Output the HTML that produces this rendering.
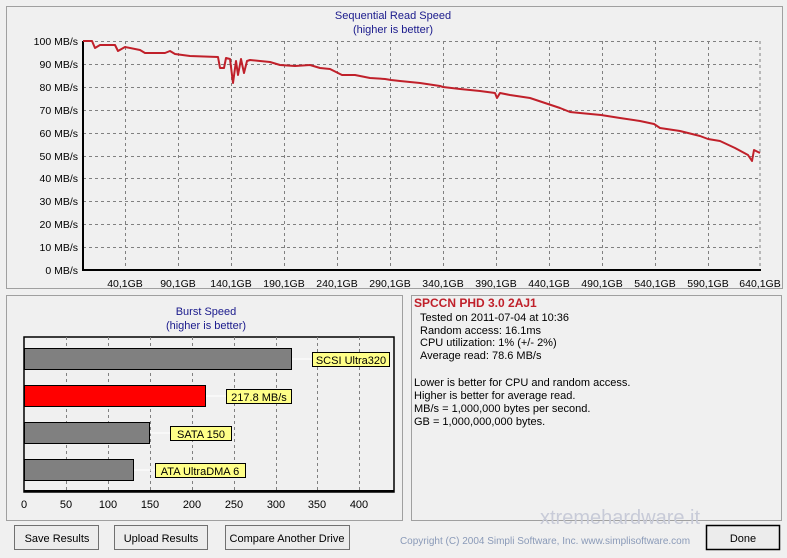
<!DOCTYPE html>
<html><head><meta charset="utf-8"><style>
body{margin:0;background:#f0f0f0;font-family:"Liberation Sans",sans-serif;}
svg text{font-family:"Liberation Sans",sans-serif;}
</style></head><body>
<svg width="787" height="553" viewBox="0 0 787 553" xmlns="http://www.w3.org/2000/svg">
<rect width="787" height="553" fill="#f0f0f0"/>
<rect x="6.5" y="6.5" width="776" height="282" fill="#f0f0f0" stroke="#a0a0a0"/>
<text x="393" y="19" font-size="11" fill="#1a1a8c" text-anchor="middle">Sequential Read Speed</text>
<text x="393" y="33" font-size="11" fill="#1a1a8c" text-anchor="middle">(higher is better)</text>
<g stroke="#808080" stroke-dasharray="3,3" stroke-width="1">
<line x1="83" y1="41.5" x2="760" y2="41.5"/><line x1="83" y1="64.5" x2="760" y2="64.5"/><line x1="83" y1="87.5" x2="760" y2="87.5"/><line x1="83" y1="110.5" x2="760" y2="110.5"/><line x1="83" y1="133.5" x2="760" y2="133.5"/><line x1="83" y1="156.5" x2="760" y2="156.5"/><line x1="83" y1="178.5" x2="760" y2="178.5"/><line x1="83" y1="201.5" x2="760" y2="201.5"/><line x1="83" y1="224.5" x2="760" y2="224.5"/><line x1="83" y1="247.5" x2="760" y2="247.5"/>
<line x1="125.5" y1="41" x2="125.5" y2="270"/><line x1="178.5" y1="41" x2="178.5" y2="270"/><line x1="231.5" y1="41" x2="231.5" y2="270"/><line x1="284.5" y1="41" x2="284.5" y2="270"/><line x1="337.5" y1="41" x2="337.5" y2="270"/><line x1="390.5" y1="41" x2="390.5" y2="270"/><line x1="443.5" y1="41" x2="443.5" y2="270"/><line x1="496.5" y1="41" x2="496.5" y2="270"/><line x1="549.5" y1="41" x2="549.5" y2="270"/><line x1="602.5" y1="41" x2="602.5" y2="270"/><line x1="655.5" y1="41" x2="655.5" y2="270"/><line x1="708.5" y1="41" x2="708.5" y2="270"/><line x1="760" y1="41" x2="760" y2="270"/>
</g>
<line x1="83" y1="41" x2="83" y2="271" stroke="#000" stroke-width="2"/>
<line x1="82" y1="270" x2="761" y2="270" stroke="#000" stroke-width="2"/>
<g font-size="10.5" fill="#000" text-anchor="end">
<text x="78" y="45">100 MB/s</text><text x="78" y="68">90 MB/s</text><text x="78" y="91">80 MB/s</text><text x="78" y="114">70 MB/s</text><text x="78" y="137">60 MB/s</text><text x="78" y="160">50 MB/s</text><text x="78" y="182">40 MB/s</text><text x="78" y="205">30 MB/s</text><text x="78" y="228">20 MB/s</text><text x="78" y="251">10 MB/s</text><text x="78" y="274">0 MB/s</text>
</g>
<g font-size="10.5" fill="#000" text-anchor="middle">
<text x="125" y="287">40,1GB</text><text x="178" y="287">90,1GB</text><text x="231" y="287">140,1GB</text><text x="284" y="287">190,1GB</text><text x="337" y="287">240,1GB</text><text x="390" y="287">290,1GB</text><text x="443" y="287">340,1GB</text><text x="496" y="287">390,1GB</text><text x="549" y="287">440,1GB</text><text x="602" y="287">490,1GB</text><text x="655" y="287">540,1GB</text><text x="708" y="287">590,1GB</text><text x="760" y="287">640,1GB</text>
</g>
<polyline fill="none" stroke="#c0202a" stroke-width="2" stroke-linejoin="round" points="83,41 92,41 95,48 100,45 115,45 118,51 125,47 140,50 145,53 165,53 170,51 175,54 190,56 218,57 220,68 224,68 226,58 230,59 233,83 236,61 238,75 241,59 244,73 247,61 250,60 260,61 270,62 280,65 295,66 310,65 320,68 330,69 342,75 355,75 370,78 385,79 391,80 400,81 420,83 440,86 443,87 460,89 480,91 495,93 497,98 500,93 510,95 530,98 548,104 560,108 570,112 580,113 601,115 620,118 640,121 654,124 660,128 680,131 700,136 708,139 720,141 735,148 748,155 752,161 754,150 760,153"/>
<rect x="6.5" y="295.5" width="396" height="225" fill="#f0f0f0" stroke="#a0a0a0"/>
<text x="206" y="315" font-size="11" fill="#1a1a8c" text-anchor="middle">Burst Speed</text>
<text x="206" y="329" font-size="11" fill="#1a1a8c" text-anchor="middle">(higher is better)</text>
<rect x="24" y="337" width="370" height="155" fill="#f0f0f0" stroke="#000" stroke-width="1.5"/>
<g stroke="#808080" stroke-dasharray="3,3">
<line x1="66.5" y1="337" x2="66.5" y2="492"/><line x1="108.5" y1="337" x2="108.5" y2="492"/><line x1="150.5" y1="337" x2="150.5" y2="492"/><line x1="192.5" y1="337" x2="192.5" y2="492"/><line x1="234.5" y1="337" x2="234.5" y2="492"/><line x1="276.5" y1="337" x2="276.5" y2="492"/><line x1="317.5" y1="337" x2="317.5" y2="492"/><line x1="359.5" y1="337" x2="359.5" y2="492"/>
</g>
<line x1="24" y1="491" x2="394" y2="491" stroke="#000" stroke-width="2"/>
<g stroke="#000" stroke-width="1">
<rect x="24.5" y="348.5" width="267" height="21" fill="#808080"/>
<rect x="24.5" y="385.5" width="181" height="21" fill="#ff0000"/>
<rect x="24.5" y="422.5" width="125" height="21" fill="#808080"/>
<rect x="24.5" y="459.5" width="109" height="21" fill="#808080"/>
</g>
<g stroke="#fff"><line x1="292" y1="359" x2="312" y2="359"/><line x1="206" y1="396" x2="226" y2="396"/><line x1="150" y1="433" x2="170" y2="433"/><line x1="134" y1="470" x2="155" y2="470"/></g>
<g stroke="#000" fill="#ffff88">
<rect x="312.5" y="352.5" width="77" height="14"/>
<rect x="226.5" y="389.5" width="65" height="14"/>
<rect x="170.5" y="426.5" width="61" height="14"/>
<rect x="155.5" y="463.5" width="90" height="14"/>
</g>
<g font-size="11" fill="#000" text-anchor="middle">
<text x="351" y="364">SCSI Ultra320</text><text x="259" y="401">217.8 MB/s</text><text x="201" y="438">SATA 150</text><text x="200" y="475">ATA UltraDMA 6</text>
</g>
<g font-size="11" fill="#000" text-anchor="middle">
<text x="24" y="508">0</text><text x="66" y="508">50</text><text x="108" y="508">100</text><text x="150" y="508">150</text><text x="192" y="508">200</text><text x="234" y="508">250</text><text x="276" y="508">300</text><text x="317" y="508">350</text><text x="359" y="508">400</text>
</g>
<rect x="411.5" y="295.5" width="370" height="225" fill="#f0f0f0" stroke="#a0a0a0"/>
<text x="414" y="307" font-size="12" font-weight="bold" fill="#c0202a">SPCCN PHD 3.0 2AJ1</text>
<g font-size="11" fill="#000">
<text x="420" y="321">Tested on 2011-07-04 at 10:36</text>
<text x="420" y="334">Random access: 16.1ms</text>
<text x="420" y="346">CPU utilization: 1% (+/- 2%)</text>
<text x="420" y="359">Average read: 78.6 MB/s</text>
<text x="414" y="386">Lower is better for CPU and random access.</text>
<text x="414" y="399">Higher is better for average read.</text>
<text x="414" y="412">MB/s = 1,000,000 bytes per second.</text>
<text x="414" y="425">GB = 1,000,000,000 bytes.</text>
</g>
<text x="540" y="524" font-size="20" fill="#c8cbd8">xtremehardware.it</text>
<g fill="#ececec" stroke="#707070">
<rect x="14.5" y="525.5" width="84" height="24"/>
<rect x="114.5" y="525.5" width="93" height="24"/>
<rect x="225.5" y="525.5" width="124" height="24"/>
<rect x="706.5" y="525.5" width="73" height="24" stroke="#000" stroke-width="1.5"/>
</g>
<g font-size="11" fill="#000" text-anchor="middle">
<text x="57" y="542">Save Results</text><text x="161" y="542">Upload Results</text><text x="287" y="542">Compare Another Drive</text><text x="743" y="542">Done</text>
</g>
<text x="545" y="544" font-size="10" fill="#8a9ab8" text-anchor="middle">Copyright (C) 2004 Simpli Software, Inc. www.simplisoftware.com</text>
</svg>
</body></html>
